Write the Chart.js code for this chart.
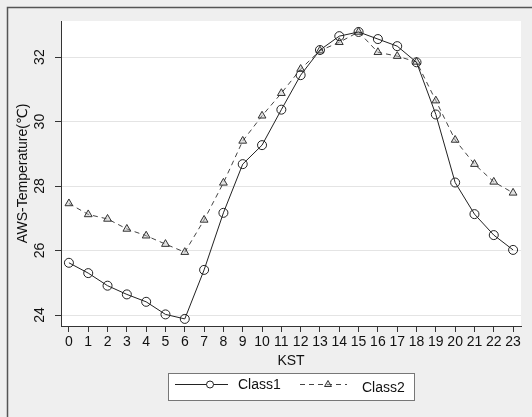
<!DOCTYPE html>
<html>
<head>
<meta charset="utf-8">
<script src="https://cdn.jsdelivr.net/npm/chart.js@4/dist/chart.umd.min.js"></script>
<style>
html,body{margin:0;padding:0;background:#efefef;}
#wrap{width:532px;height:417px;position:relative;}
canvas{display:block;}
</style>
</head>
<body>
<div id="wrap"><canvas id="c" width="532" height="417"></canvas></div>
<script>
// ---- data ----
const hours = [0,1,2,3,4,5,6,7,8,9,10,11,12,13,14,15,16,17,18,19,20,21,22,23];
const xTickLabels = ['0','1','2','3','4','5','6','7','8','9','10','11','12','13','14','15','16','17','18','19','20','21','22','23'];
const yTickValues = [24, 26, 28, 30, 32];
const seriesNames = ['Class1', 'Class2'];
const class1 = [25.62, 25.30, 24.91, 24.64, 24.41, 24.02, 23.88, 25.40, 27.17, 28.68, 29.27, 30.37,
                31.44, 32.22, 32.65, 32.78, 32.56, 32.34, 31.84, 30.22, 28.11, 27.13, 26.48, 26.02];
const class2 = [27.46, 27.12, 26.98, 26.67, 26.46, 26.20, 25.95, 26.95, 28.10, 29.40, 30.18, 30.88,
                31.63, 32.20, 32.46, 32.78, 32.15, 32.03, 31.85, 30.65, 29.43, 28.68, 28.13, 27.79];
const xTitle = 'KST';
const yTitle = 'AWS-Temperature(\u2103)';

const FONT = "'Liberation Sans', Arial, 'DejaVu Sans', sans-serif";

const bgPlugin = {
  id: 'bg',
  beforeDraw(chart) {
    const ctx = chart.ctx, a = chart.chartArea;
    ctx.save();
    ctx.fillStyle = '#efefef';
    ctx.fillRect(0, 0, chart.width, chart.height);
    ctx.strokeStyle = '#555';
    ctx.lineWidth = 1.5;
    ctx.beginPath();
    ctx.moveTo(7.5, chart.height);
    ctx.lineTo(7.5, 7.5);
    ctx.lineTo(chart.width, 7.5);
    ctx.stroke();
    ctx.fillStyle = '#ffffff';
    ctx.fillRect(a.left, a.top, a.right - a.left, a.bottom - a.top);
    ctx.restore();
  }
};

function drawMarker(ctx, style, x, y, r, fill, stroke) {
  ctx.beginPath();
  if (style === 'circle') {
    ctx.arc(x, y, r, 0, Math.PI * 2);
  } else {
    ctx.moveTo(x, y - r);
    ctx.lineTo(x + r * Math.sqrt(3) / 2, y + r / 2);
    ctx.lineTo(x - r * Math.sqrt(3) / 2, y + r / 2);
    ctx.closePath();
  }
  ctx.fillStyle = fill;
  ctx.fill();
  ctx.strokeStyle = stroke;
  ctx.lineWidth = 1;
  ctx.stroke();
}

const legendPlugin = {
  id: 'customLegend',
  afterDraw(chart) {
    const ctx = chart.ctx;
    ctx.save();
    const bx = 168, by = 373, bw = 247, bh = 28;
    ctx.fillStyle = '#ffffff';
    ctx.fillRect(bx, by, bw, bh);
    ctx.strokeStyle = '#777';
    ctx.lineWidth = 1;
    ctx.strokeRect(bx + 0.5, by + 0.5, bw - 1, bh - 1);
    const entries = [
      {x0: 175, x1: 228, mx: 210, tx: 238, ty: 385},
      {x0: 300, x1: 347, mx: 328, tx: 362, ty: 388.5}
    ];
    chart.data.datasets.forEach((ds, i) => {
      const e = entries[i];
      ctx.strokeStyle = ds.borderColor;
      ctx.lineWidth = 1;
      ctx.setLineDash(ds.borderDash || []);
      ctx.beginPath();
      ctx.moveTo(e.x0, 384.5);
      ctx.lineTo(e.x1, 384.5);
      ctx.stroke();
      ctx.setLineDash([]);
      drawMarker(ctx, ds.pointStyle, e.mx, 384.5, i === 0 ? 3.5 : 4,
                 i === 0 ? '#ffffff' : ds.pointBackgroundColor, ds.pointBorderColor);
      ctx.fillStyle = '#111';
      ctx.font = '14px ' + FONT;
      ctx.textAlign = 'left';
      ctx.textBaseline = 'middle';
      ctx.fillText(ds.label, e.tx, e.ty);
    });
    ctx.restore();
  }
};

new Chart(document.getElementById('c'), {
  type: 'line',
  data: {
    datasets: [
      {
        label: seriesNames[0],
        data: hours.map((h, i) => ({x: h, y: class1[i]})),
        borderColor: '#222',
        borderWidth: 1,
        pointStyle: 'circle',
        pointRadius: 4.5,
        pointBorderWidth: 1,
        pointBorderColor: '#222',
        pointBackgroundColor: 'rgba(255,255,255,0)',
        tension: 0,
        fill: false
      },
      {
        label: seriesNames[1],
        data: hours.map((h, i) => ({x: h, y: class2[i]})),
        borderColor: '#444',
        borderWidth: 1,
        borderDash: [5, 4],
        pointStyle: 'triangle',
        pointRadius: 4.5,
        pointBorderWidth: 1,
        pointBorderColor: '#333',
        pointBackgroundColor: 'rgba(190,190,190,0.45)',
        tension: 0,
        fill: false
      }
    ]
  },
  options: {
    responsive: false,
    devicePixelRatio: 1,
    animation: false,
    layout: {padding: {left: 8, top: 21, right: 11, bottom: 47}},
    plugins: {
      legend: {display: false},
      tooltip: {enabled: false}
    },
    scales: {
      x: {
        type: 'linear',
        min: -0.41,
        max: 23.41,
        afterBuildTicks: s => { s.ticks = hours.map(v => ({value: v})); },
        afterFit: s => { s.height = 44; },
        grid: {drawOnChartArea: false, tickLength: 6, tickColor: '#333', tickWidth: 1},
        border: {display: true, color: '#333', width: 1},
        ticks: {
          autoSkip: false, maxRotation: 0, minRotation: 0, padding: 2,
          color: '#111', font: {family: FONT, size: 14},
          callback: (v) => xTickLabels[hours.indexOf(v)]
        },
        title: {display: true, text: xTitle, color: '#111', font: {family: FONT, size: 14}, padding: {top: 0, bottom: 0}}
      },
      y: {
        type: 'linear',
        min: 23.66,
        max: 33.12,
        afterBuildTicks: s => { s.ticks = yTickValues.map(v => ({value: v})); },
        afterFit: s => { s.width = 53; },
        grid: {color: '#e4e4e4', lineWidth: 1, tickLength: 6, tickColor: '#333', tickWidth: 1},
        border: {display: true, color: '#333', width: 1},
        ticks: {
          minRotation: 90, maxRotation: 90, crossAlign: 'center', padding: 7,
          color: '#111', font: {family: FONT, size: 14},
          callback: v => String(v)
        },
        title: {display: true, text: yTitle, color: '#111', font: {family: FONT, size: 14}, padding: {top: 7, bottom: 0}}
      }
    }
  },
  plugins: [bgPlugin, legendPlugin]
});
</script>
</body>
</html>
